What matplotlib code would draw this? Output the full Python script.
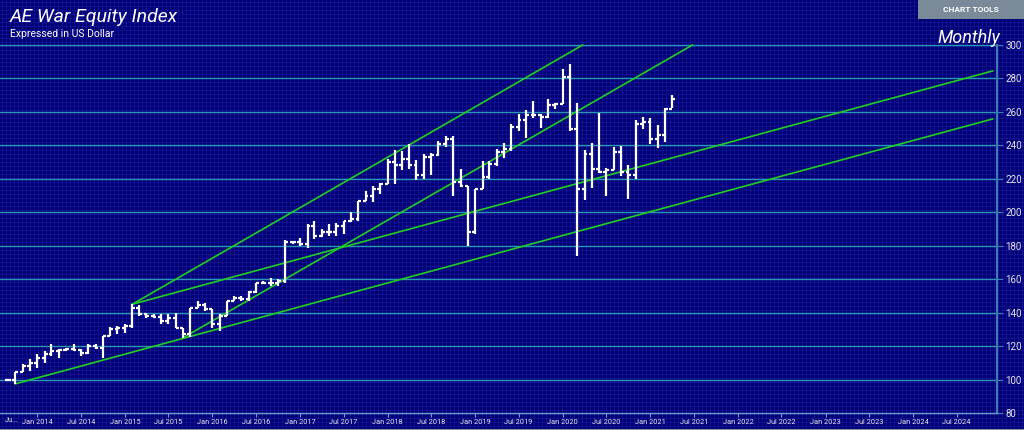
import numpy as np
import pandas as pd
import matplotlib
matplotlib.use("Agg")
from matplotlib import pyplot as plt
import matplotlib.dates as mdates

plt.rcParams["font.family"] = ["Roboto", "DejaVu Sans"]

# monthly OHLC, Sep 2013 .. Apr 2021
months = pd.date_range("2013-09-01", "2021-04-01", freq="MS")
opens = [100, 100, 104.5, 108, 110, 113, 115.5, 117, 117.5, 118, 117.5, 116, 120, 119,
         126, 130, 131, 132, 143, 139, 138, 137.5, 135, 137, 131, 127, 143, 144.5,
         142, 133, 138, 147, 149, 148, 152.5, 157.5, 158, 158, 159, 182.5, 182, 181,
         192, 186, 188, 188, 192, 194.5, 196, 207, 210, 214, 217, 230, 228, 232,
         228, 222, 233, 234.5, 241, 244, 218, 216, 188, 214, 221, 229, 236, 238,
         251, 255, 258, 258, 257, 264, 265, 281, 250, 214, 235, 226, 224, 225,
         236, 224, 222, 253, 254, 244, 246, 262]
highs = [100.5, 104.6, 109.4, 112, 115, 117, 121, 118, 119, 121, 118, 121, 121.5, 126,
         131.5, 132, 133, 145, 144.5, 140, 139, 139, 139, 140, 131, 143, 147, 146,
         142, 139, 147, 150, 150, 153, 158, 159, 161, 160, 183.5, 183, 184.6, 193,
         195, 190, 193, 193.5, 195, 200, 207, 213, 216, 217.5, 232, 237, 236.6, 241,
         231, 235, 235.5, 242.6, 245.6, 245.6, 226, 216, 214, 230.7, 230.7, 237.8,
         241.4, 252.8, 258.8, 261, 266.5, 258.8, 268, 265.3, 285.6, 288.6, 265.3,
         237.2, 241.4, 259.4, 226.5, 239, 239.6, 228, 255, 257, 256.4, 252.2, 262.3, 270]
lows = [99.5, 97.6, 104.5, 105, 107, 110, 114, 113, 117, 117, 114, 115, 118, 113,
        126, 127, 128, 131, 138, 137, 137, 133, 133, 131, 125, 125.5, 143, 141,
        131, 129, 138, 147, 147, 147, 152, 157, 156, 156, 158, 181, 180, 178.7,
        184, 185, 186, 186, 187, 194, 195, 207, 206, 211, 217, 217, 225, 226,
        219, 220, 222, 233.6, 239, 210, 215, 180, 187, 214, 220, 227.7, 232.5,
        236.6, 248.6, 244.4, 256.4, 250.4, 256.4, 261.7, 264.7, 248.6, 173.9,
        207.4, 214.5, 223.5, 209.7, 225, 221.7, 208, 220, 249.8, 240.8, 238.4, 242, 262.3]
closes = [100, 104.5, 108, 110, 113, 115.5, 117, 117.5, 118, 117.5, 116, 120, 119, 126,
          130, 131, 132, 143, 139, 138, 137.5, 135, 137, 131, 127, 143, 144.5, 142,
          133, 138, 147, 149, 148, 152.5, 157.5, 158, 158, 159, 182.5, 182, 181, 192,
          186, 188, 188, 192, 194.5, 196, 207, 210, 214, 217, 230, 228, 232, 228,
          222, 233, 234.5, 241, 244, 218, 216, 188, 214, 221, 229, 236, 238, 251,
          255, 258, 258, 257, 264, 265, 281, 250, 214, 235, 226, 224, 225, 236,
          224, 222, 253, 254, 244, 246, 262, 268]

# trend lines (start date, start value, end date, end value)
trend_lines = [
    ("2013-10-01", 97.4, "2024-11-28", 255.8),
    ("2015-02-01", 145.0, "2024-11-28", 284.5),
    ("2015-02-01", 145.0, "2020-03-24", 300.0),
    ("2015-09-01", 125.0, "2021-06-25", 300.0),
]

y_ticks = [80, 100, 120, 140, 160, 180, 200, 220, 240, 260, 280, 300]
x_tick_dates = pd.date_range("2014-01-01", "2024-07-01", freq="6MS")

W, H = 1024, 430
fig = plt.figure(figsize=(W / 100, H / 100), dpi=100)
fig.patch.set_facecolor("#000070")

# fine background grid over the whole figure
bg = fig.add_axes([0, 0, 1, 1])
bg.set_xlim(0, W)
bg.set_ylim(H, 0)
bg.set_facecolor("#000070")
for xv in np.arange(2, W, 4):
    bg.axvline(xv, color="#1616a4", lw=0.5, zorder=0)
for yv in np.arange(2, H, 4):
    bg.axhline(yv, color="#1616a4", lw=0.5, zorder=0)
bg.axhline(428.5, color="#8a8fa0", lw=0.8)
bg.axis("off")

ax = fig.add_axes([0, 17 / H, 997 / W, 413 / H])
ax.patch.set_alpha(0)
jan14 = mdates.date2num(pd.Timestamp("2014-01-01"))
ax.set_xlim(jan14 - 155.5, jan14 + 4002)
ax.set_ylim(80, 80 + 413 / 1.6727)

for v in y_ticks[1:]:
    ax.axhline(v, color="#2a96b6", lw=1.0, zorder=1)

xd = mdates.date2num(months)
half = 12
ax.vlines(xd, lows, highs, color="white", lw=1.6, zorder=4)
ax.hlines(opens, xd - half, xd, color="white", lw=1.6, zorder=4)
ax.hlines(closes, xd, xd + half, color="white", lw=1.6, zorder=4)

for d0, v0, d1, v1 in trend_lines:
    ax.plot([pd.Timestamp(d0), pd.Timestamp(d1)], [v0, v1], color="#1fd11f", lw=1.2, zorder=3)

for s in ["top", "left"]:
    ax.spines[s].set_visible(False)
ax.spines["right"].set_color("#3a7fb0")
ax.spines["right"].set_linewidth(1.5)
ax.spines["right"].set_bounds(80, 300)
ax.spines["bottom"].set_color("#6a9fc8")
ax.spines["bottom"].set_linewidth(1.0)

ax.yaxis.tick_right()
ax.set_yticks(y_ticks)
ax.tick_params(axis="y", colors="#3a7fb0", labelcolor="#e6e6e6", labelsize=7, length=4, pad=2)
ax.set_xticks(mdates.date2num(x_tick_dates))
ax.set_xticklabels([d.strftime("%b %Y") for d in x_tick_dates])
ax.tick_params(axis="x", colors="#6a9fc8", labelcolor="#e6e6e6", labelsize=5.3, length=3, pad=1)
fig.text(5 / W, 1 - 421 / H, "Ju...", color="#e6e6e6", fontsize=5.3, va="center")

fig.text(10 / W, 1 - 17 / H, "AE War Equity Index", color="white", fontsize=14, style="italic", va="center")
fig.text(10 / W, 1 - 34 / H, "Expressed in US Dollar", color="white", fontsize=7.5, va="center")
fig.text(1000 / W, 1 - 38 / H, "Monthly", color="white", fontsize=13, style="italic", va="center", ha="right")

fig.patches.append(plt.Rectangle((918 / W, 1 - 19 / H), 106 / W, 19 / H, transform=fig.transFigure,
                                 facecolor="#7a8a99", edgecolor="none", zorder=5))
fig.text(971 / W, 1 - 9.5 / H, "CHART TOOLS", color="white", fontsize=6, fontweight="bold",
         ha="center", va="center", zorder=6)

fig.savefig("out.png", dpi=100, facecolor=fig.get_facecolor())
